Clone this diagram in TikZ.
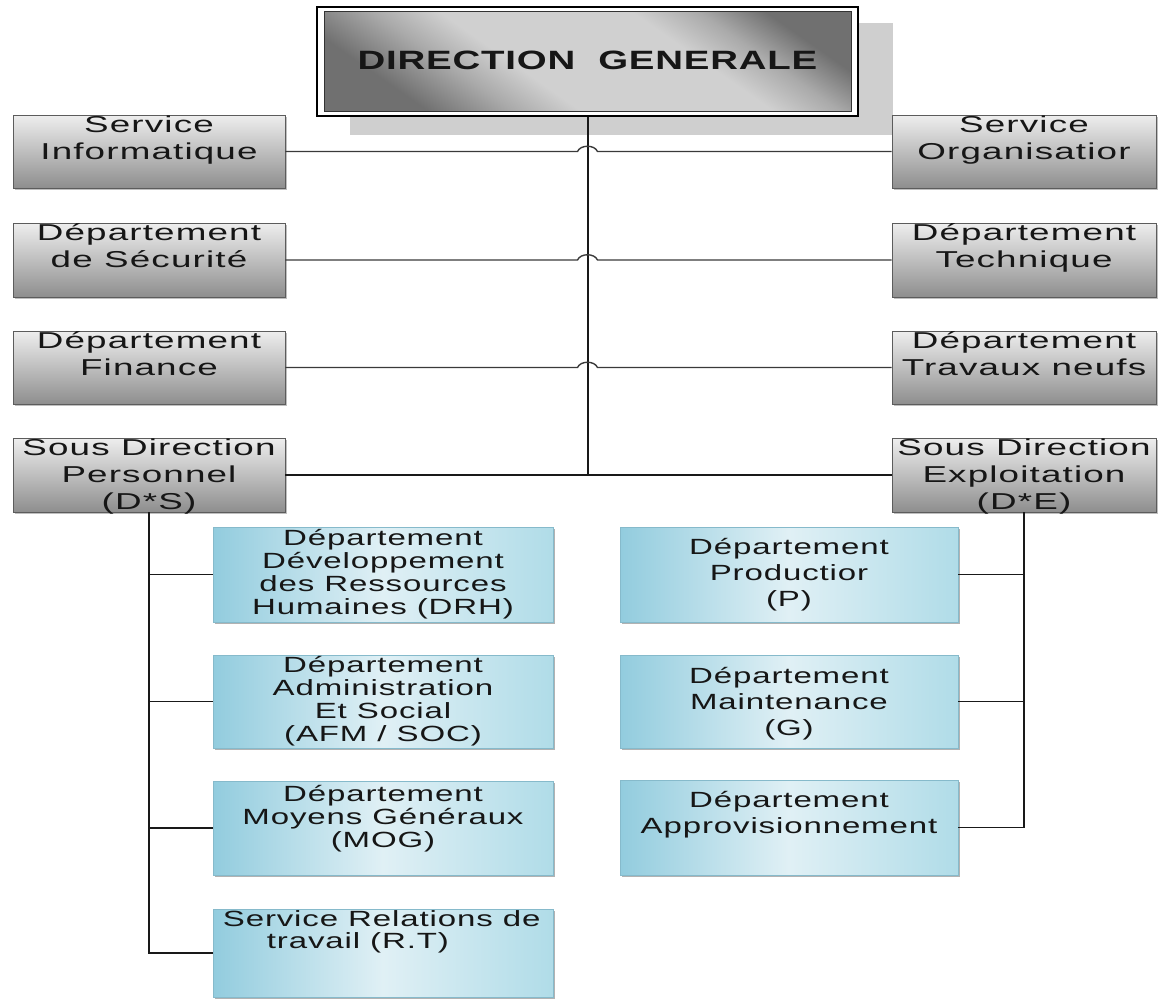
\documentclass[tikz,border=0pt]{standalone}
\usepackage{fontspec}
\setmainfont{Liberation Sans}
\newfontfamily\grayfont[FakeStretch=1.6,LetterSpace=5]{Liberation Sans}
\newfontfamily\bluefont[FakeStretch=1.5,LetterSpace=4]{Liberation Sans}
\newfontfamily\titlefont[FakeStretch=1.45,LetterSpace=3]{Liberation Sans}
\usetikzlibrary{calc,shadows}

\definecolor{gtop}{HTML}{EEEEEE}
\definecolor{gbot}{HTML}{8E8E8E}
\definecolor{gedge}{HTML}{5C5C5C}
\definecolor{shadowgray}{HTML}{CFCFCF}
\definecolor{bdark}{HTML}{92CCDE}
\definecolor{bmid}{HTML}{B0DCE8}
\definecolor{blight}{HTML}{E0F0F5}
\definecolor{bedge}{HTML}{86BACB}
\definecolor{tdark}{HTML}{707070}
\definecolor{tmid}{HTML}{AAAAAA}
\definecolor{tlight}{HTML}{D0D0D0}
\definecolor{linegray}{HTML}{3A3A3A}
\definecolor{inkgray}{HTML}{161616}

% metallic shading of the title panel: dark edges, broad light band
\pgfdeclareverticalshading{titleshade}{100bp}{color(0bp)=(tdark); color(26bp)=(tdark);
  color(35bp)=(tmid); color(42bp)=(tlight); color(62bp)=(tlight); color(69bp)=(tmid);
  color(76bp)=(tdark); color(100bp)=(tdark)}

% strut that fixes the height of a first text line
\newcommand\gstrut{\rule{0pt}{22pt}}

\begin{document}
\begin{tikzpicture}[x=1pt,y=-1pt,
  graybox/.style={draw=gedge, line width=0.9pt, top color=gtop, bottom color=gbot,
    minimum height=73pt, inner sep=0pt,
    drop shadow={shadow xshift=1.5pt, shadow yshift=-2pt, fill=black, opacity=0.25}},
  leftgray/.style={graybox, minimum width=272pt},
  rightgray/.style={graybox, minimum width=264pt},
  graytext/.style={font=\grayfont\fontsize{23pt}{27pt}\selectfont, text=inkgray,
    align=center, inner sep=0pt, anchor=north},
  bluebox/.style={draw=bedge, line width=0.6pt, shading=axis,
    left color=bdark, right color=bmid, middle color=blight, inner sep=0pt,
    drop shadow={shadow xshift=1.5pt, shadow yshift=-2pt, fill=black, opacity=0.3}},
  leftblue/.style={bluebox, minimum width=340pt},
  rightblue/.style={bluebox, minimum width=338pt},
  bluetext/.style={font=\bluefont\fontsize{22pt}{23pt}\selectfont, text=inkgray,
    align=center, inner sep=0pt},
  bluetextwide/.style={bluetext, font=\bluefont\fontsize{22pt}{26pt}\selectfont},
  trunkline/.style={line width=2pt, draw=black!90},
  hopline/.style={line width=1.4pt, draw=linegray},
  branch/.style={line width=1.5pt, draw=black!90},
]
\useasboundingbox (0,0) rectangle (1161,998);

% ---- top block: shadow, frame, shaded panel, title
\node (dgshadow) [fill=shadowgray, inner sep=0pt, minimum width=543pt, minimum height=112pt] at (621.5,79) {};
\node (dg) [draw=black, line width=1.6pt, fill=white, inner sep=0pt,
  minimum width=541pt, minimum height=109pt] at (587.5,61.5) {};
\node (dgin) [draw=black!80, line width=1pt, inner sep=0pt, shading=titleshade, shading angle=-35,
  minimum width=527pt, minimum height=99pt] at (dg.center) {};
\node (dgt) [font=\titlefont\bfseries\fontsize{26.5pt}{30pt}\selectfont, text=inkgray, inner sep=0pt]
  at ([yshift=1pt]dg.center) {DIRECTION~~GENERALE};

% ---- grey boxes, left column
\node (si)  [leftgray, minimum height=73pt] at (149,151.5) {};
\node (ds)  [leftgray, minimum height=74pt] at (149,260) {};
\node (df)  [leftgray, minimum height=73pt] at (149,367.5) {};
\node (sdp) [leftgray, minimum height=74pt] at (149,475) {};
% ---- grey boxes, right column
\node (so)  [rightgray, minimum height=73pt] at (1024,151.5) {};
\node (dt)  [rightgray, minimum height=74pt] at (1024,260) {};
\node (dtn) [rightgray, minimum height=73pt] at (1024,367.5) {};
\node (sde) [rightgray, minimum height=74pt] at (1024,475) {};

\node (si-t)  [graytext] at ([yshift=4pt]si.north)  {\gstrut Service\\Informatique};
\node (ds-t)  [graytext] at ([yshift=4pt]ds.north)  {\gstrut Département\\de Sécurité};
\node (df-t)  [graytext] at ([yshift=4pt]df.north)  {\gstrut Département\\Finance};
\node (sdp-t) [graytext] at ([yshift=4pt]sdp.north) {\gstrut Sous Direction\\Personnel\\(D*S)};
\node (so-t)  [graytext] at ([yshift=4pt]so.north)  {\gstrut Service\\Organisatior};
\node (dt-t)  [graytext] at ([yshift=4pt]dt.north)  {\gstrut Département\\Technique};
\node (dtn-t) [graytext] at ([yshift=4pt]dtn.north) {\gstrut Département\\Travaux neufs};
\node (sde-t) [graytext] at ([yshift=4pt]sde.north) {\gstrut Sous Direction\\Exploitation\\(D*E)};

% ---- blue boxes, under the personnel sub-direction
\node (drh) [leftblue, minimum height=95pt] at (383,574.5) {};
\node (afm) [leftblue, minimum height=93pt] at (383,701.5) {};
\node (mog) [leftblue, minimum height=94pt] at (383,828) {};
\node (rt)  [leftblue, minimum height=88pt] at (383,953) {};
% ---- blue boxes, under the exploitation sub-direction
\node (pr) [rightblue, minimum height=95pt] at (789,574.5) {};
\node (mt) [rightblue, minimum height=93pt] at (789,701.5) {};
\node (ap) [rightblue, minimum height=95pt] at (789,827.5) {};

\node (drh-t) [bluetext] at (drh.center) {Département\\Développement\\des Ressources\\Humaines (DRH)};
\node (afm-t) [bluetext] at (afm.center) {Département\\Administration\\Et Social\\(AFM / SOC)};
\node (mog-t) [bluetext] at ([yshift=9pt]mog.center) {Département\\Moyens Généraux\\(MOG)};
\node (rt-t)  [bluetext, align=left, anchor=north west, font=\bluefont\fontsize{22pt}{22pt}\selectfont]
  at ([xshift=10pt,yshift=2pt]rt.north west) {\rule{0pt}{20pt}Service Relations de\\\hspace*{44pt}travail (R.T)};
\node (pr-t) [bluetextwide] at (pr.center) {Département\\Productior\\(P)};
\node (mt-t) [bluetextwide] at ([yshift=-2pt]mt.center) {Département\\Maintenance\\(G)};
\node (ap-t) [bluetextwide] at ([yshift=13pt]ap.center) {Département\\Approvisionnement};

% ---- connectors
\draw[trunkline] (dg.south) -- (dg.south |- sdp.east);
\draw[trunkline] (sdp.east) -- (sde.west);
\foreach \l/\r in {si/so, ds/dt, df/dtn}
  \draw[hopline] (\l.east) -- ($(\l.east -| dg.south)+(-10,0)$)
    .. controls +(3pt,7pt) and +(-3pt,7pt) .. ($(\l.east -| dg.south)+(10,0)$) -- (\r.west);

\draw[branch] (sdp.south) |- (rt.west);
\foreach \b in {drh, afm, mog}
  \draw[branch] (\b.west -| sdp.south) -- (\b.west);

\draw[branch] (sde.south) |- (ap.east);
\foreach \b in {pr, mt}
  \draw[branch] (\b.east -| sde.south) -- (\b.east);
\end{tikzpicture}
\end{document}
